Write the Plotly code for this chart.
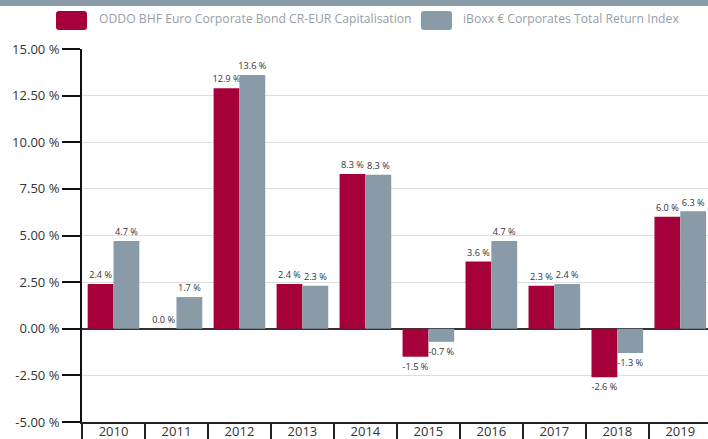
import plotly.graph_objects as go

years = ["2010", "2011", "2012", "2013", "2014", "2015", "2016", "2017", "2018", "2019"]
fund_name = "ODDO BHF Euro Corporate Bond CR-EUR Capitalisation"
index_name = "iBoxx € Corporates Total Return Index"
fund_values = [2.4, 0.0, 12.9, 2.4, 8.3, -1.5, 3.6, 2.3, -2.6, 6.0]
index_values = [4.7, 1.7, 13.6, 2.3, 8.26, -0.7, 4.7, 2.4, -1.3, 6.3]
y_ticks = [-5, -2.5, 0, 2.5, 5, 7.5, 10, 12.5, 15]
y_ticklabels = ["-5.00 %", "-2.50 %", "0.00 %", "2.50 %", "5.00 %", "7.50 %", "10.00 %", "12.50 %", "15.00 %"]

RED = "#a5003a"
GREY = "#8a9ba8"

W, H = 708, 439
ML, MT, MB = 82, 49, 17
PW, PH = W - ML, H - MT - MB

def px_x(x):
    return (x - ML) / PW

def px_y(y):
    return 1 - (y - MT) / PH

def labels(vals):
    return [f"{v:.1f} %" for v in vals]

def rounded_rect(x0, y0, x1, y1, r):
    X = px_x
    Y = px_y
    return (f"M {X(x0 + r)} {Y(y0)} L {X(x1 - r)} {Y(y0)} Q {X(x1)} {Y(y0)} {X(x1)} {Y(y0 + r)} "
            f"L {X(x1)} {Y(y1 - r)} Q {X(x1)} {Y(y1)} {X(x1 - r)} {Y(y1)} "
            f"L {X(x0 + r)} {Y(y1)} Q {X(x0)} {Y(y1)} {X(x0)} {Y(y1 - r)} "
            f"L {X(x0)} {Y(y0 + r)} Q {X(x0)} {Y(y0)} {X(x0 + r)} {Y(y0)} Z")

fig = go.Figure()
fig.add_trace(go.Bar(x=years, y=fund_values, name=fund_name, marker_color=RED,
                     marker_line_width=0, text=labels(fund_values), textposition="outside",
                     textfont=dict(size=10, color="#333333"), cliponaxis=False))
fig.add_trace(go.Bar(x=years, y=index_values, name=index_name, marker_color=GREY,
                     marker_line_width=0, text=labels(index_values), textposition="outside",
                     textfont=dict(size=10, color="#333333"), cliponaxis=False))

fig.update_layout(
    width=W, height=H,
    margin=dict(l=ML, r=0, t=MT, b=MB, autoexpand=False),
    paper_bgcolor="white", plot_bgcolor="white",
    font=dict(family="Open Sans, Noto Sans, sans-serif", color="#333333", size=12),
    barmode="group", bargap=0.18, bargroupgap=0,
    showlegend=False,
    uniformtext=dict(minsize=9, mode="show"),
)
fig.update_xaxes(
    type="category", range=[-0.5, 9.44], automargin=False,
    showline=True, linecolor="#222222", linewidth=2,
    ticks="outside", tickson="boundaries", ticklen=22, tickwidth=2, tickcolor="#222222",
    ticklabelstandoff=-4,
    tickfont=dict(size=13, color="#333333"),
    showgrid=False,
)
fig.update_yaxes(
    range=[-5, 15], tickvals=y_ticks, ticktext=y_ticklabels, automargin=False,
    showline=True, linecolor="#111111", linewidth=2,
    ticks="outside", ticklen=18, tickwidth=2, tickcolor="#111111",
    showgrid=True, gridcolor="#dddddd", gridwidth=1,
    zeroline=True, zerolinecolor="#333333", zerolinewidth=2,
    tickfont=dict(size=13, color="#333333"),
)
# top strip
fig.add_shape(type="rect", xref="paper", yref="paper",
              x0=px_x(0), x1=px_x(W), y0=px_y(6), y1=px_y(0),
              fillcolor=GREY, line_width=0, layer="above")
# custom legend
legend_items = [(fund_name, RED, 56, 97), (index_name, GREY, 421, 461)]
for name, col, sx, tx in legend_items:
    fig.add_shape(type="path", xref="paper", yref="paper",
                  path=rounded_rect(sx, 11, sx + 31, 30, 3),
                  fillcolor=col, line_width=0, layer="above")
    fig.add_annotation(text=name, xref="paper", yref="paper",
                       x=px_x(tx), y=px_y(19), xanchor="left", yanchor="middle",
                       showarrow=False,
                       font=dict(family="Open Sans, sans-serif", size=12.2, color="#959fa7"))

fig.write_html("out.html", post_script="document.body.style.margin='0';",
               config={"displayModeBar": False})
